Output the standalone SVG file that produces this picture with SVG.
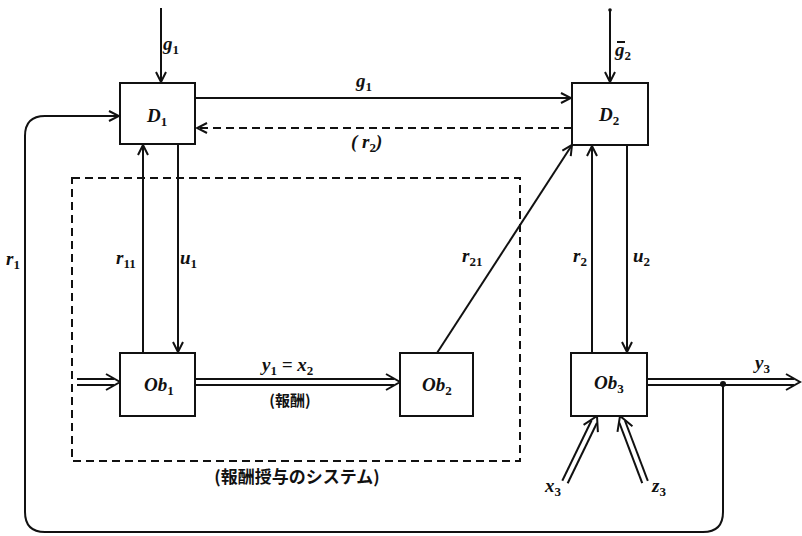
<svg xmlns="http://www.w3.org/2000/svg" xmlns:xlink="http://www.w3.org/1999/xlink" width="802" height="536" viewBox="0 0 802 536">
<style>
.box{fill:#fff;stroke:#111;stroke-width:2}
.ln{fill:none;stroke:#111;stroke-width:2}
.dash{fill:none;stroke:#111;stroke-width:2;stroke-dasharray:8 5}
.dblo{fill:none;stroke:#111;stroke-width:8}
.dbli{fill:none;stroke:#fff;stroke-width:4}
.m{font-family:'Liberation Serif', 'DejaVu Serif', serif;font-style:italic;font-weight:bold;font-size:19px;fill:#111}
.s{font-size:13px;font-style:normal}
.j{font-family:'Noto Sans CJK JP', 'Noto Sans CJK SC', sans-serif;font-weight:bold;fill:#111}
</style>
<defs>
<marker id="a" markerUnits="userSpaceOnUse" markerWidth="12" markerHeight="12" viewBox="0 0 12 12" refX="11" refY="6" orient="auto">
<path d="M1,1 L11,6 L1,11" fill="none" stroke="#111" stroke-width="2"/>
</marker>
<g id="dh"><path d="M-14,-8 L0,0 L-14,8" fill="none" stroke="#111" stroke-width="2"/></g>
</defs>

<g id="connectors">
<rect class="dash" x="72" y="178" width="448" height="283"/>
<line class="ln" x1="161" y1="8" x2="161" y2="82" marker-end="url(#a)"/>
<line class="ln" x1="610" y1="10" x2="610" y2="82" marker-end="url(#a)"/>
<circle cx="610" cy="10" r="1.8" fill="#111"/>
<line class="ln" x1="195" y1="98" x2="571" y2="98" marker-end="url(#a)"/>
<line class="dash" x1="572" y1="128" x2="197" y2="128" marker-end="url(#a)"/>
<line class="ln" x1="143" y1="353" x2="143" y2="145" marker-end="url(#a)"/>
<line class="ln" x1="178" y1="144" x2="178" y2="352" marker-end="url(#a)"/>
<line class="ln" x1="592" y1="353" x2="592" y2="146" marker-end="url(#a)"/>
<line class="ln" x1="627" y1="145" x2="627" y2="352" marker-end="url(#a)"/>
<line class="ln" x1="437" y1="353" x2="572" y2="145" marker-end="url(#a)"/>
<line class="dblo" x1="77" y1="382" x2="114" y2="382"/>
<line class="dbli" x1="76" y1="382" x2="115" y2="382"/>
<use xlink:href="#dh" transform="translate(120,382)"/>
<line class="dblo" x1="196" y1="382" x2="394" y2="382"/>
<line class="dbli" x1="195" y1="382" x2="395" y2="382"/>
<use xlink:href="#dh" transform="translate(400,382)"/>
<line class="dblo" x1="648" y1="382" x2="794" y2="382"/>
<line class="dbli" x1="647" y1="382" x2="795" y2="382"/>
<use xlink:href="#dh" transform="translate(800,382)"/>
<line class="dblo" x1="565" y1="482" x2="594.3" y2="421.4"/>
<line class="dbli" x1="564.5" y1="483" x2="594.8" y2="420.5"/>
<use xlink:href="#dh" transform="translate(597,416) rotate(-63.43)"/>
<line class="dblo" x1="645" y1="482" x2="622.1" y2="421.6"/>
<line class="dbli" x1="645.4" y1="483" x2="621.8" y2="420.7"/>
<use xlink:href="#dh" transform="translate(620,416) rotate(-110.75)"/>
<path class="ln" d="M723,385 V512 Q723,532 703,532 H45 Q25,532 25,512 V136 Q25,116 45,116 H119" marker-end="url(#a)"/>
<circle cx="723" cy="384" r="3" fill="#111"/>
</g>

<g id="D1">
<rect class="box" x="120" y="83" width="75" height="61"/>
<text class="m" x="147" y="122">D<tspan class="s" dy="4">1</tspan></text>
</g>
<g id="D2">
<rect class="box" x="572" y="83" width="76" height="62"/>
<text class="m" x="599" y="121">D<tspan class="s" dy="4">2</tspan></text>
</g>
<g id="Ob1">
<rect class="box" x="120" y="353" width="75" height="63"/>
<text class="m" x="144" y="391">Ob<tspan class="s" dy="4">1</tspan></text>
</g>
<g id="Ob2">
<rect class="box" x="400" y="353" width="73" height="63"/>
<text class="m" x="422" y="391">Ob<tspan class="s" dy="4">2</tspan></text>
</g>
<g id="Ob3">
<rect class="box" x="571" y="353" width="76" height="63"/>
<text class="m" x="594" y="389">Ob<tspan class="s" dy="4">3</tspan></text>
</g>

<g id="labels">
<text class="m" x="163" y="50">g<tspan class="s" dy="4">1</tspan></text>
<text class="m" x="356" y="87">g<tspan class="s" dy="4">1</tspan></text>
<text class="m" x="351" y="148">( r<tspan class="s" dy="4">2</tspan><tspan dy="-4">)</tspan></text>
<text class="m" x="615" y="56">g<tspan class="s" dy="4">2</tspan></text>
<line x1="617" y1="42" x2="625" y2="42" stroke="#111" stroke-width="2"/>
<text class="m" x="6" y="265">r<tspan class="s" dy="4">1</tspan></text>
<text class="m" x="116" y="264">r<tspan class="s" dy="4">11</tspan></text>
<text class="m" x="180" y="264">u<tspan class="s" dy="4">1</tspan></text>
<text class="m" x="462" y="262">r<tspan class="s" dy="4">21</tspan></text>
<text class="m" x="573" y="262">r<tspan class="s" dy="4">2</tspan></text>
<text class="m" x="633" y="262">u<tspan class="s" dy="4">2</tspan></text>
<text class="m" x="262" y="371">y<tspan class="s" dy="4">1</tspan><tspan dy="-4"> = x</tspan><tspan class="s" dy="4">2</tspan></text>
<text class="j" x="290" y="406" font-size="15" text-anchor="middle">(報酬)</text>
<text class="m" x="755" y="369">y<tspan class="s" dy="4">3</tspan></text>
<text class="m" x="545" y="492">x<tspan class="s" dy="4">3</tspan></text>
<text class="m" x="652" y="492">z<tspan class="s" dy="4">3</tspan></text>
<text class="j" x="297" y="483" font-size="17" text-anchor="middle">(報酬授与のシステム)</text>
</g>
</svg>
